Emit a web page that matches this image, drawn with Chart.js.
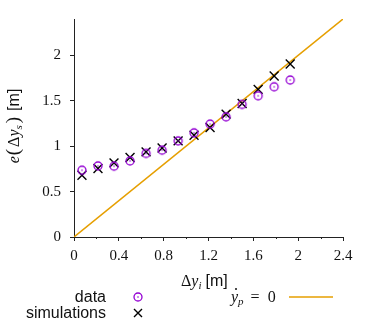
<!DOCTYPE html>
<html>
<head>
<meta charset="utf-8">
<script src="https://cdn.jsdelivr.net/npm/chart.js@4"></script>
<style>
  html, body { margin: 0; padding: 0; background: #fff; }
  #wrap { width: 373px; height: 327px; }
</style>
</head>
<body>
<div id="wrap"><canvas id="chart" width="373" height="327"></canvas></div>
<script>
// values
const dyInput = [0.071, 0.214, 0.357, 0.5, 0.643, 0.786, 0.929, 1.071, 1.214, 1.357, 1.5, 1.643, 1.786, 1.929];
const measured = [0.735, 0.783, 0.78, 0.838, 0.92, 0.956, 1.058, 1.147, 1.243, 1.323, 1.46, 1.555, 1.654, 1.728];
const simulated = [0.68, 0.754, 0.816, 0.875, 0.937, 0.98, 1.058, 1.12, 1.206, 1.353, 1.47, 1.625, 1.772, 1.904];
const refLineX = [0, 2.4];
const xTickValues = [0, 0.4, 0.8, 1.2, 1.6, 2, 2.4];
const xMinorTicks = [0.2, 0.6, 1.0, 1.4, 1.8, 2.2];
const yTickValues = [0, 0.5, 1, 1.5, 2];

const PURPLE = '#9400d3';
const ORANGE = '#e69f00';
const AXIS = '#222';
const SERIF = '"Liberation Serif", "DejaVu Serif", serif';
const SANS = '"Liberation Sans", Arial, sans-serif';

// open circle with a dot in the middle, like gnuplot pt 6
function makeRing() {
    const c = document.createElement('canvas');
    c.width = 12; c.height = 12;
    const g = c.getContext('2d');
    g.strokeStyle = PURPLE;
    g.lineWidth = 1.3;
    g.beginPath(); g.arc(6, 6, 4, 0, Math.PI * 2); g.stroke();
    g.fillStyle = PURPLE;
    g.beginPath(); g.arc(6, 6, 0.8, 0, Math.PI * 2); g.fill();
    return c;
}
const ring = makeRing();

// draw a row of text pieces with their own fonts
function drawRuns(ctx, runs, x, y) {
    let cx = x;
    runs.forEach(r => {
        ctx.font = r.font;
        ctx.fillText(r.t, cx, y + (r.dy || 0));
        cx += ctx.measureText(r.t).width + (r.gap || 0);
    });
    return cx;
}
function runsWidth(ctx, runs) {
    let w = 0;
    runs.forEach(r => { ctx.font = r.font; w += ctx.measureText(r.t).width + (r.gap || 0); });
    return w;
}

const extras = {
    id: 'extras',
    afterDraw(chart) {
        const ctx = chart.ctx;
        const xs = chart.scales.x;
        const area = chart.chartArea;
        ctx.save();
        // minor ticks on x
        ctx.strokeStyle = AXIS;
        ctx.lineWidth = 1;
        xMinorTicks.forEach(v => {
            const px = Math.round(xs.getPixelForValue(v)) + 0.5;
            ctx.beginPath(); ctx.moveTo(px, area.bottom); ctx.lineTo(px, area.bottom + 2); ctx.stroke();
        });

        ctx.fillStyle = '#111';
        ctx.textBaseline = 'alphabetic';
        ctx.textAlign = 'left';

        // x axis title
        drawRuns(ctx, [
            { t: 'Δ', font: '16px ' + SERIF },
            { t: 'y', font: 'italic 16px ' + SERIF },
            { t: 'i', font: 'italic 11px ' + SERIF, dy: 3, gap: 4 },
            { t: '[m]', font: '16px ' + SANS }
        ], 181, 286);

        // y axis title, rotated
        const yRuns = [
            { t: 'e', font: 'italic 16px ' + SERIF, gap: 1 },
            { t: '(', font: '19px ' + SERIF, gap: 2 },
            { t: 'Δ', font: '16px ' + SERIF },
            { t: 'y', font: 'italic 16px ' + SERIF },
            { t: 's', font: 'italic 11px ' + SERIF, dy: 3, gap: 2 },
            { t: ')', font: '19px ' + SERIF, gap: 6 },
            { t: '[m]', font: '16px ' + SANS }
        ];
        ctx.save();
        ctx.translate(19, 126);
        ctx.rotate(-Math.PI / 2);
        drawRuns(ctx, yRuns, -runsWidth(ctx, yRuns) / 2, 0);
        ctx.restore();

        // legend, left block
        ctx.font = '16px ' + SANS;
        ctx.textAlign = 'right';
        ctx.fillText('data', 106, 302);
        ctx.fillText('simulations', 106, 318);
        ctx.drawImage(ring, 138 - 6, 297 - 6);
        ctx.strokeStyle = '#000';
        ctx.lineWidth = 1.4;
        ctx.beginPath();
        ctx.moveTo(134, 309); ctx.lineTo(142, 317);
        ctx.moveTo(142, 309); ctx.lineTo(134, 317);
        ctx.stroke();

        // legend, right block: y-dot_p = 0
        ctx.textAlign = 'left';
        ctx.fillStyle = '#111';
        drawRuns(ctx, [
            { t: 'y', font: 'italic 16px ' + SERIF },
            { t: 'p', font: 'italic 11px ' + SERIF, dy: 3, gap: 7 },
            { t: '=', font: '16px ' + SERIF, gap: 8 },
            { t: '0', font: '16px ' + SERIF }
        ], 231, 301.5);
        ctx.beginPath(); ctx.arc(236, 289, 1, 0, Math.PI * 2); ctx.fill();
        ctx.strokeStyle = ORANGE;
        ctx.lineWidth = 1.5;
        ctx.beginPath(); ctx.moveTo(289, 297); ctx.lineTo(333, 297); ctx.stroke();
        ctx.restore();
    }
};

new Chart(document.getElementById('chart'), {
    type: 'scatter',
    data: {
        datasets: [
            {
                label: 'data',
                data: dyInput.map((x, i) => ({ x: x, y: measured[i] })),
                pointStyle: ring,
                pointRadius: 5
            },
            {
                label: 'simulations',
                data: dyInput.map((x, i) => ({ x: x, y: simulated[i] })),
                pointStyle: 'crossRot',
                pointRadius: 6.3,
                borderColor: '#000',
                borderWidth: 1.4
            },
            {
                label: 'ydot_p = 0',
                data: refLineX.map(x => ({ x: x, y: x })),
                showLine: true,
                pointRadius: 0,
                borderColor: ORANGE,
                borderWidth: 1.5
            }
        ]
    },
    options: {
        responsive: false,
        animation: false,
        devicePixelRatio: 1,
        layout: { padding: { left: 0, right: 30, top: 19, bottom: 0 } },
        plugins: { legend: { display: false }, tooltip: { enabled: false } },
        scales: {
            x: {
                type: 'linear',
                min: 0,
                max: 2.4,
                afterBuildTicks: s => { s.ticks = xTickValues.map(v => ({ value: v })); },
                afterFit: s => { s.height = 90; },
                ticks: {
                    autoSkip: false,
                    maxRotation: 0,
                    padding: 6,
                    color: '#111',
                    font: { family: SERIF, size: 15 },
                    callback: v => String(Math.round(v * 10) / 10)
                },
                grid: { drawOnChartArea: false, tickLength: 4, color: AXIS },
                border: { display: true, color: AXIS, width: 1 }
            },
            y: {
                min: 0,
                max: 2.4,
                afterBuildTicks: s => { s.ticks = yTickValues.map(v => ({ value: v })); },
                afterFit: s => { s.width = 74; },
                ticks: {
                    padding: 9,
                    color: '#111',
                    font: { family: SERIF, size: 15 },
                    callback: v => String(v)
                },
                grid: { drawOnChartArea: false, tickLength: 4, color: AXIS },
                border: { display: true, color: AXIS, width: 1 }
            }
        }
    },
    plugins: [extras]
});
</script>
</body>
</html>
